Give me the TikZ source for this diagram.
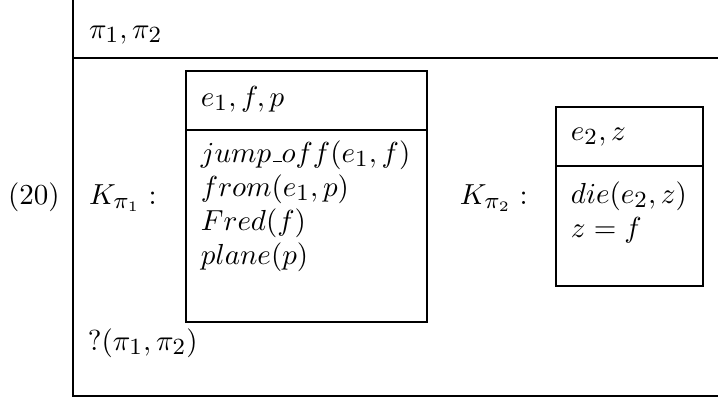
\documentclass[tikz,border=0pt]{standalone}
\DeclareMathSizes{10}{10}{7.6}{5.5}
\newcommand\shortus{\leavevmode\kern.06em\vbox{\hrule width.3em}}
\begin{document}
\begin{tikzpicture}[x=0.345pt,y=-0.345pt,
  rule/.style={line width=0.6pt,black},
  txt/.style={anchor=base west,inner sep=0pt,outer sep=0pt}]
\useasboundingbox (0,0) rectangle (718,398);
% outer frame
\draw[rule] (73,0) -- (73,396) -- (718,396);
\draw[rule] (73,58) -- (718,58);
% box 1
\draw[rule] (186,71) rectangle (427,322);
\draw[rule] (186,130) -- (427,130);
% box 2
\draw[rule] (556,107) rectangle (703,286);
\draw[rule] (556,166) -- (703,166);
% texts
\node[txt] (num) at (8,204) {(20)};
\node[txt] (top) at (89,38) {$\pi_1,\pi_2$};
\node[txt] (k1) at (89,204) {$K_{\pi_1}:$};
\node[txt] (u1) at (201,106) {$e_1,f,p$};
\node[txt] (c1a) at (201,162) {$jump\shortus off(e_1,f)$};
\node[txt] (c1b) at (201,196) {$from(e_1,p)$};
\node[txt] (c1c) at (201,230) {$Fred(f)$};
\node[txt] (c1d) at (201,264) {$plane(p)$};
\node[txt] (k2) at (460,204) {$K_{\pi_2}:$};
\node[txt] (u2) at (571,140) {$e_2,z$};
\node[txt] (c2a) at (571,203) {$die(e_2,z)$};
\node[txt] (c2b) at (571,237) {$z=f$};
\node[txt] (q) at (88,350) {$?(\pi_1,\pi_2)$};
\end{tikzpicture}
\end{document}
